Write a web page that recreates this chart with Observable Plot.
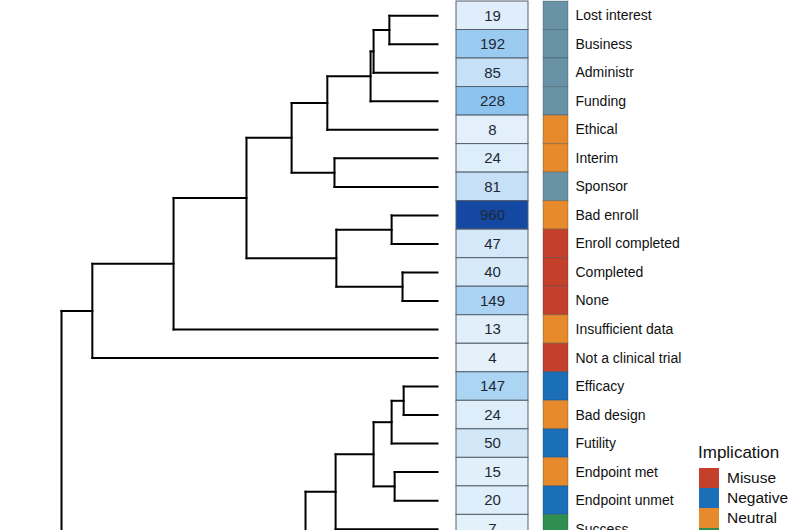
<!DOCTYPE html>
<html>
<head>
<meta charset="utf-8">
<script src="https://cdn.jsdelivr.net/npm/d3@7"></script>
<script src="https://cdn.jsdelivr.net/npm/@observablehq/plot@0.6"></script>
<style>
  html, body { margin: 0; padding: 0; background: #fff; }
  #frame { position: relative; width: 800px; height: 530px; overflow: hidden;
           font-family: "Liberation Sans", Arial, Helvetica, sans-serif; }
  #row { display: flex; align-items: flex-start; }
  #row svg { flex: none; display: block; }
  #legend { position: absolute; left: 698px; top: 441px; color: #111; }
  #legend .title { font-size: 17px; line-height: 24px; margin-bottom: 3px; }
  #legend .item { display: flex; align-items: center; height: 20px; }
  #legend .sw { width: 20px; height: 20px; margin-left: 1px; }
  #legend .lab { font-size: 15.5px; margin-left: 8px; }
</style>
</head>
<body>
<div id="frame">
  <div id="row"></div>
  <div id="legend"></div>
</div>
<script>
// ---- data ----
const labels = ["Lost interest", "Business", "Administr", "Funding", "Ethical", "Interim", "Sponsor",
  "Bad enroll", "Enroll completed", "Completed", "None", "Insufficient data", "Not a clinical trial",
  "Efficacy", "Bad design", "Futility", "Endpoint met", "Endpoint unmet", "Success"];
const counts = [19, 192, 85, 228, 8, 24, 81, 960, 47, 40, 149, 13, 4, 147, 24, 50, 15, 20, 7];
const implication = ["Business", "Business", "Business", "Business", "Neutral", "Neutral", "Business",
  "Neutral", "Misuse", "Misuse", "Misuse", "Neutral", "Misuse",
  "Negative", "Neutral", "Negative", "Neutral", "Negative", "Positive"];
// rows that continue below the photographed frame (not visible)
const hiddenRows = ["hidden-1", "hidden-2", "hidden-3", "hidden-4"];

const implicationNames = ["Misuse", "Negative", "Neutral", "Positive", "Business"];
const implicationColors = ["#c4402b", "#1b6fb8", "#e68a2c", "#2f8f50", "#6a92a6"];

// hierarchical clustering merges: [node, childA, childB, merge height]
const merges = [
  ["m1", "Lost interest", "Business", 0.128],
  ["m2", "m1", "Administr", 0.170],
  ["m3", "m2", "Funding", 0.178],
  ["m4", "m3", "Ethical", 0.293],
  ["m5", "Interim", "Sponsor", 0.274],
  ["m6", "m4", "m5", 0.388],
  ["m7", "Bad enroll", "Enroll completed", 0.122],
  ["m8", "Completed", "None", 0.093],
  ["m9", "m7", "m8", 0.269],
  ["m10", "m6", "m9", 0.508],
  ["m11", "m10", "Insufficient data", 0.702],
  ["m12", "m11", "Not a clinical trial", 0.918],
  ["m13", "Efficacy", "Bad design", 0.090],
  ["m14", "m13", "Futility", 0.122],
  ["m15", "Endpoint met", "Endpoint unmet", 0.114],
  ["m16", "m14", "m15", 0.170],
  ["m17", "m16", "Success", 0.271],
  ["h12", "hidden-1", "hidden-2", 0.10],
  ["h34", "hidden-3", "hidden-4", 0.10],
  ["hX", "h12", "h34", 0.20],
  ["m18", "m17", "hX", 0.351],
  ["root", "m12", "m18", 1.0]
];

// ---- derived tables ----
const allRows = labels.concat(hiddenRows);
const n = allRows.length;
const rows = labels.map((label, i) => ({label, count: counts[i], implication: implication[i]}));

const nodeY = new Map(allRows.map((r, i) => [r, i]));
const nodeH = new Map(allRows.map(r => [r, 0]));
const segments = [];
for (const [node, a, b, h] of merges) {
  const ya = nodeY.get(a), yb = nodeY.get(b);
  segments.push({x1: h, y1: ya, x2: h, y2: yb});
  segments.push({x1: nodeH.get(a), y1: ya, x2: h, y2: ya});
  segments.push({x1: nodeH.get(b), y1: yb, x2: h, y2: yb});
  nodeY.set(node, (ya + yb) / 2);
  nodeH.set(node, h);
}

const H = 660, MT = 1, MB = 3;
const font = "Liberation Sans, Arial, Helvetica, sans-serif";

const dendro = Plot.plot({
  width: 440, height: H, marginLeft: 61, marginRight: 3, marginTop: MT, marginBottom: MB,
  style: {fontFamily: font},
  x: {domain: [1, 0], axis: null},
  y: {domain: [-0.5, n - 0.5], reverse: true, axis: null},
  marks: [
    Plot.link(segments, {x1: "x1", y1: "y1", x2: "x2", y2: "y2",
      stroke: "#000", strokeWidth: 2, strokeLinecap: "square"})
  ]
});

const heat = Plot.plot({
  width: 100, height: H, marginLeft: 16, marginRight: 12, marginTop: MT, marginBottom: MB,
  style: {fontFamily: font},
  x: {axis: null, padding: 0, round: false},
  y: {axis: null, domain: allRows, padding: 0, round: false},
  color: {type: "linear", domain: [0, 960],
    interpolate: d3.piecewise(d3.interpolateRgb, ["#e6f2fb", "#2a8fe2", "#1448a3"])},
  marks: [
    Plot.cell(rows, {x: () => "count", y: "label", fill: "count", inset: 0,
      stroke: "#56616c", strokeWidth: 1}),
    Plot.text(rows, {x: () => "count", y: "label", text: d => String(d.count),
      fill: "#1e2833", fontSize: 15})
  ]
});

const impl = Plot.plot({
  width: 260, height: H, marginLeft: 3, marginRight: 232, marginTop: MT, marginBottom: MB,
  style: {fontFamily: font, overflow: "visible"},
  x: {axis: null, padding: 0, round: false},
  y: {axis: null, domain: allRows, padding: 0, round: false},
  color: {domain: implicationNames, range: implicationColors},
  marks: [
    Plot.cell(rows, {x: () => "implication", y: "label", fill: "implication", inset: 0,
      stroke: "#1c3442", strokeOpacity: 0.3, strokeWidth: 1}),
    Plot.text(rows, {y: "label", text: "label", frameAnchor: "left", dx: 32,
      textAnchor: "start", fill: "#111", fontSize: 14})
  ]
});

const rowDiv = document.getElementById("row");
rowDiv.append(dendro, heat, impl);

// legend
const lg = document.getElementById("legend");
const t = document.createElement("div");
t.className = "title"; t.textContent = "Implication";
lg.append(t);
implicationNames.forEach((name, i) => {
  const it = document.createElement("div"); it.className = "item";
  const sw = document.createElement("div"); sw.className = "sw"; sw.style.background = implicationColors[i];
  const lb = document.createElement("div"); lb.className = "lab"; lb.textContent = name;
  it.append(sw, lb); lg.append(it);
});
</script>
</body>
</html>
